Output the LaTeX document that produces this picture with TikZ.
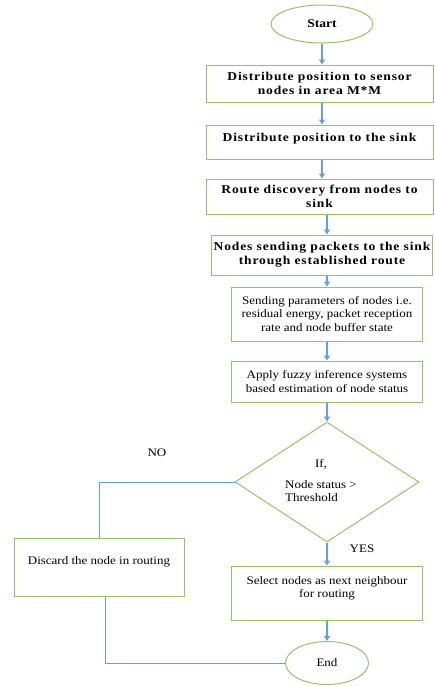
\documentclass[tikz,border=0pt]{standalone}
\usepackage{fontspec}
\setmainfont{Liberation Serif}[FakeStretch=1.13]
\usepackage{tikz}
\usetikzlibrary{shapes,positioning,arrows.meta,calc}
\definecolor{boxgreen}{RGB}{148,196,104}
\definecolor{lineblue}{RGB}{104,160,218}

\begin{document}
\begin{tikzpicture}[x=1pt, y=1pt, %
        blk/.style={draw=boxgreen, line width=1pt, rectangle, align=center,
          inner sep=2pt, font=\fontsize{11.5}{13.5}\selectfont},
        bblk/.style={blk, font=\fontsize{12}{14}\selectfont\bfseries\addfontfeatures{LetterSpace=7}},
        term/.style={draw=boxgreen, line width=1pt, ellipse, inner sep=0pt},
        flow/.style={draw=lineblue, line width=1.2pt, -{Triangle[width=6pt, length=5pt]}},
        link/.style={draw=lineblue, line width=1pt},
        lbl/.style={font=\fontsize{11.5}{13.5}\selectfont}
        ]
        \useasboundingbox (0,0) rectangle (435,-686);
        \node[term, minimum width=102pt, minimum height=38pt,
          font=\fontsize{12}{14}\selectfont\bfseries] (start) at (322,-24) {Start};
        \node[bblk, minimum width=227pt, minimum height=37pt] (b1) at (319.5,-83.5)
          {Distribute position to sensor\\ nodes in area M*M};
        \node[bblk, minimum width=227pt, minimum height=34pt, text depth=10pt] (b2) at (319.5,-142)
          {Distribute position to the sink};
        \node[bblk, minimum width=227pt, minimum height=35pt] (b3) at (319.5,-196.5)
          {Route discovery from nodes to\\ sink};
        \node[bblk, minimum width=220pt, minimum height=40pt] (b4) at (322,-255)
          {Nodes sending packets to the sink\\ through established route};
        \node[blk, minimum width=191pt, minimum height=54pt] (b5) at (327,-314)
          {Sending parameters of nodes i.e.\\ residual energy, packet reception\\ rate and node buffer state};
        \node[blk, minimum width=191pt, minimum height=41pt] (b6) at (327,-381.5)
          {Apply fuzzy inference systems\\ based estimation of node status};
        \node[draw=boxgreen, line width=1pt, diamond, shape aspect=1.5, inner sep=0pt,
          minimum width=184pt, minimum height=120pt, lbl] (dec) at (327,-482)
          {\begin{tabular}{@{}l@{}}\multicolumn{1}{@{}c@{}}{If,}\\[7pt] Node status >\\ Threshold\end{tabular}\hspace*{12pt}};
        \node[lbl] (no) at (157,-453) {NO};
        \node[lbl] (yes) at (362,-549) {YES};
        \node[blk, minimum width=170pt, minimum height=58pt, text depth=12pt] (discard) at (99,-567)
          {Discard the node in routing};
        \node[blk, minimum width=191pt, minimum height=54pt, text depth=12pt] (select) at (327,-593)
          {Select nodes as next neighbour\\ for routing};
        \node[term, minimum width=83pt, minimum height=43pt, lbl] (stop) at (327,-663) {End};

        \draw[flow] (start) -- (start |- b1.north);
        \draw[flow] (b1.south -| start) -- (b2.north -| start);
        \draw[flow] (b2.south -| start) -- (b3.north -| start);
        \draw[flow] (b3.south -| b5) -- (b4.north -| b5);
        \draw[flow] (b4.south -| b5) -- (b5);
        \draw[flow] (b5) -- (b6);
        \draw[flow] (b6) -- (dec);
        \draw[flow] (dec) -- (select);
        \draw[flow] (select) -- (stop);
        \draw[link] (dec.west) -| (discard.north);
        \draw[link] ([xshift=6pt]discard.south) |- (stop.west);
      \end{tikzpicture}
\end{document}
